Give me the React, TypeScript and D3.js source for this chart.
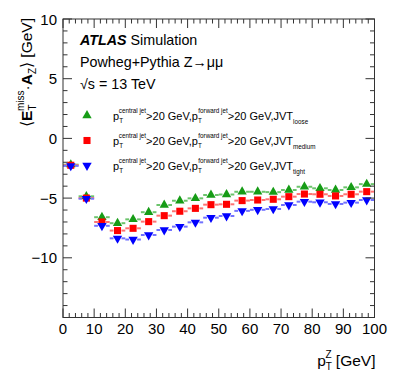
import React from "react";
import * as d3 from "d3";

// bin centres of the 5 GeV pT(Z) bins
const BIN_CENTERS = [2.5, 7.5, 12.5, 17.5, 22.5, 27.5, 32.5, 37.5, 42.5, 47.5, 52.5, 57.5, 62.5, 67.5, 72.5, 77.5, 82.5, 87.5, 92.5, 97.5];
const BIN_HALF_WIDTH = 2.5;

const JVT_LOOSE = [-2.2, -4.85, -6.6, -7.1, -6.78, -6.18, -5.58, -5.22, -5.02, -4.74, -4.7, -4.47, -4.47, -4.5, -4.32, -4.05, -4.18, -4.32, -4.1, -3.83];
const JVT_MEDIUM = [-2.25, -5.0, -7.0, -7.72, -7.53, -6.97, -6.47, -6.1, -5.86, -5.55, -5.52, -5.21, -5.16, -5.1, -4.88, -4.66, -4.68, -4.82, -4.68, -4.46];
const JVT_TIGHT = [-2.3, -5.05, -7.32, -8.37, -8.47, -8.09, -7.67, -7.39, -7.03, -6.64, -6.5, -6.07, -5.98, -5.91, -5.58, -5.3, -5.35, -5.49, -5.38, -5.16];

const X_TICKS = [0, 10, 20, 30, 40, 50, 60, 70, 80, 90, 100];
const Y_TICKS = [-10, -5, 0, 5, 10];
const SERIES_LABELS = ["loose", "medium", "tight"];

const W = 395;
const H = 379;
const frame = { left: 63, right: 374.5, top: 19, bottom: 317.5 };
const FONT = "'Liberation Sans', Arial, Helvetica, sans-serif";
const AXIS_COLOR = "#333";

const x = d3.scaleLinear().domain([0, 100]).range([frame.left, frame.right]);
const y = d3.scaleLinear().domain([-15, 10]).range([frame.bottom, frame.top]);

const series = [
  { values: JVT_LOOSE, color: "#169c16", light: "#6cc46c", shape: d3.symbolTriangle, rot: 0, label: SERIES_LABELS[0] },
  { values: JVT_MEDIUM, color: "#ff0000", light: "#ff7272", shape: d3.symbolSquare, rot: 0, label: SERIES_LABELS[1] },
  { values: JVT_TIGHT, color: "#0000ff", light: "#7272ff", shape: d3.symbolTriangle, rot: 180, label: SERIES_LABELS[2] },
];

function marker(shape: d3.SymbolType) {
  return d3.symbol().type(shape).size(shape === d3.symbolSquare ? 50 : 38)() as string;
}

function Axes() {
  const xMinor = d3.range(0, 101, 2);
  const yMinor = d3.range(-15, 10.01, 1);
  const major = 9;
  const minor = 4.5;
  return (
    <g stroke={AXIS_COLOR} strokeWidth={1}>
      <rect x={frame.left} y={frame.top} width={frame.right - frame.left} height={frame.bottom - frame.top} fill="none" />
      {xMinor.map((v) => {
        const len = v % 10 === 0 ? major : minor;
        return (
          <g key={"x" + v}>
            <line x1={x(v)} x2={x(v)} y1={frame.bottom} y2={frame.bottom - len} />
            <line x1={x(v)} x2={x(v)} y1={frame.top} y2={frame.top + len} />
          </g>
        );
      })}
      {yMinor.map((v) => {
        const len = v % 5 === 0 ? major : minor;
        return (
          <g key={"y" + v}>
            <line x1={frame.left} x2={frame.left + len} y1={y(v)} y2={y(v)} />
            <line x1={frame.right} x2={frame.right - len} y1={y(v)} y2={y(v)} />
          </g>
        );
      })}
    </g>
  );
}

function LegendRow({ s, yy }: { s: (typeof series)[number]; yy: number }) {
  return (
    <g>
      <path d={marker(s.shape)} transform={`translate(87,${yy - 4.5}) rotate(${s.rot})`} fill={s.color} />
      <text x={113} y={yy} fontSize={11} fontFamily={FONT} fill="#000">
        <tspan>p</tspan>
        <tspan fontSize={6.3} dy={3}>T</tspan>
        <tspan fontSize={6.3} dx={-3.5} dy={-10.5}>central jet</tspan>
        <tspan dy={7.5}>&gt;20 GeV,p</tspan>
        <tspan fontSize={6.3} dy={3}>T</tspan>
        <tspan fontSize={6.3} dx={-3.5} dy={-10.5}>forward jet</tspan>
        <tspan dy={7.5}>&gt;20 GeV,JVT</tspan>
        <tspan fontSize={6.3} dy={4}>{s.label}</tspan>
      </text>
    </g>
  );
}

export default function App() {
  return (
    <>
      <style>{`body{margin:0}`}</style>
      <svg width={W} height={H} style={{ display: "block", background: "#fff" }}>
        {/* error bars, gapped around the marker */}
        {series.map((s, si) => (
          <g key={"e" + si} stroke={s.light} strokeWidth={2}>
            {s.values.map((v, i) => {
              const cx = x(BIN_CENTERS[i]);
              const cy = y(v);
              return (
                <g key={i}>
                  <line x1={x(BIN_CENTERS[i] - BIN_HALF_WIDTH)} x2={cx - 4} y1={cy} y2={cy} />
                  <line x1={cx + 4} x2={x(BIN_CENTERS[i] + BIN_HALF_WIDTH)} y1={cy} y2={cy} />
                </g>
              );
            })}
          </g>
        ))}
        {series.map((s, si) => (
          <g key={"m" + si} fill={s.color}>
            {s.values.map((v, i) => (
              <path key={i} d={marker(s.shape)} transform={`translate(${x(BIN_CENTERS[i])},${y(v)}) rotate(${s.rot})`} />
            ))}
          </g>
        ))}

        <Axes />

        {X_TICKS.map((t) => (
          <text key={t} x={x(t)} y={333.5} textAnchor="middle" fontSize={15} fontFamily={FONT} fill="#000">
            {t}
          </text>
        ))}
        {Y_TICKS.map((t) => (
          <text key={t} x={57} y={y(t) + 5.5} textAnchor="end" fontSize={15} fontFamily={FONT} fill="#000">
            {t < 0 ? "\u2212" + Math.abs(t) : t}
          </text>
        ))}

        {/* axis titles */}
        <text x={frame.right + 1} y={366} textAnchor="end" fontSize={15.5} fontFamily={FONT} fill="#000">
          <tspan>p</tspan>
          <tspan fontSize={10} dy={4}>T</tspan>
          <tspan fontSize={10} dx={-6.5} dy={-12}>Z</tspan>
          <tspan dy={8}> [GeV]</tspan>
        </text>
        <text transform="translate(32,18) rotate(-90)" textAnchor="end" fontSize={15.5} fontFamily={FONT} fill="#000">
          <tspan>{"\u27e8"}</tspan>
          <tspan fontWeight="bold">E</tspan>
          <tspan fontSize={10} dy={4}>T</tspan>
          <tspan fontSize={10} dx={-6.5} dy={-12}>miss</tspan>
          <tspan dy={8}>{"\u00b7"}</tspan>
          <tspan fontWeight="bold">A</tspan>
          <tspan fontSize={10} dy={4}>Z</tspan>
          <tspan dy={-4}>{"\u27e9 [GeV]"}</tspan>
        </text>

        {/* labels */}
        <text x={80} y={45} fontSize={14.3} fontFamily={FONT} fill="#000">
          <tspan fontWeight="bold" fontStyle="italic">ATLAS</tspan>
          <tspan> Simulation</tspan>
        </text>
        <text x={80} y={67} fontSize={14.3} fontFamily={FONT} fill="#000">
          Powheg+Pythia Z{"\u2192\u03bc\u03bc"}
        </text>
        <text x={80} y={89} fontSize={14.3} fontFamily={FONT} fill="#000">
          {"\u221as = 13 TeV"}
        </text>

        {series.map((s, i) => (
          <LegendRow key={i} s={s} yy={120 + i * 25} />
        ))}
      </svg>
    </>
  );
}
